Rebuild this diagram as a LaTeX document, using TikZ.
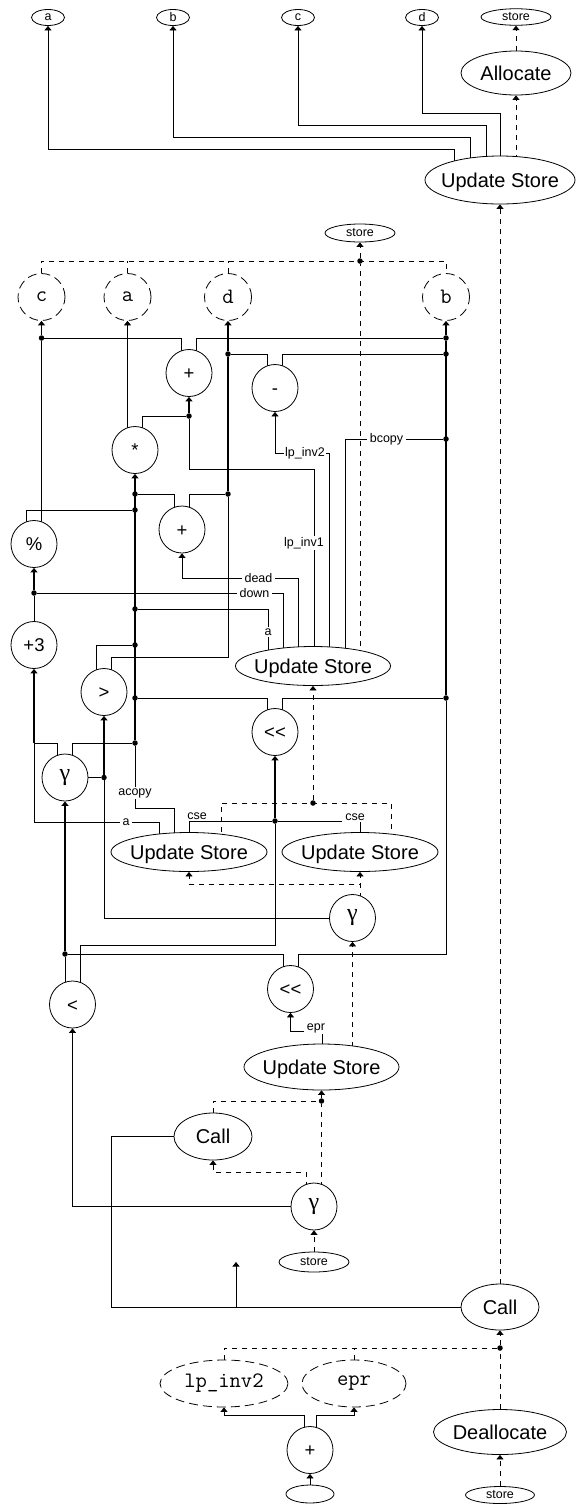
\documentclass[tikz,border=0pt]{standalone}
\usepackage{fontspec}
\setmainfont{Liberation Sans}
\newfontfamily\serifA{Liberation Serif}
\usetikzlibrary{shapes.geometric,arrows.meta,calc}
\pgfdeclarelayer{bg}
\pgfsetlayers{bg,main}
\newcommand\mk[1]{\makebox[0pt]{#1}}
\newcommand\bigF{\fontsize{20}{24}\selectfont}
\newcommand\opF{\fontsize{18.5}{22}\selectfont}
\newcommand\gamF{\serifA\fontsize{24}{28}\selectfont}
\newcommand\monoF{\ttfamily\fontsize{22}{26}\selectfont}
\newcommand\smF{\fontsize{12.5}{15}\selectfont}
\tikzset{
 base/.style={ellipse, draw, line width=0.8pt, fill=white, inner sep=0pt},
 bigE/.style={base, font=\bigF, text height=14.5pt, text depth=0pt},
 opE/.style={base, minimum width=46pt, minimum height=47pt, font=\opF, text height=13pt, text depth=0pt},
 gamE/.style={base, minimum width=46pt, minimum height=47pt, font=\gamF},
 dashE/.style={base, dash pattern=on 9pt off 5pt, font=\monoF},
 smallE/.style={base, font=\smF},
 lbl/.style={fill=white, inner xsep=3pt, inner ysep=1.5pt, font=\smF},
 jdot/.style={circle, fill=black, inner sep=0pt, minimum size=5.5pt},
 ln/.style={line width=0.75pt},
 tk/.style={line width=1.5pt},
 ds/.style={line width=0.75pt, dash pattern=on 5pt off 5pt},
 ar/.style={-{Triangle[width=7pt,length=4.5pt]}},
}
\begin{document}
\begin{tikzpicture}[x=1pt,y=-1pt]
\useasboundingbox (0,0) rectangle (576,1505);
% ---------- nodes ----------
\node[smallE, minimum width=33pt, minimum height=16pt] (ta) at (48,17.5) {a};
\node[smallE, minimum width=33pt, minimum height=16pt] (tb) at (173,17.5) {b};
\node[smallE, minimum width=33pt, minimum height=16pt] (tc) at (298,17.5) {c};
\node[smallE, minimum width=33pt, minimum height=16pt] (td) at (422,17.5) {d};
\node[smallE, minimum width=70pt, minimum height=16.5pt] (tstore) at (516,17) {store};
\node[bigE, minimum width=110pt, minimum height=44pt] (alloc) at (516,73) {\mk{Allocate}};
\node[bigE, minimum width=150pt, minimum height=48pt] (us1) at (500,180) {\mk{Update Store}};

\node[smallE, minimum width=70pt, minimum height=18pt] (store2) at (360,233) {store};
\node[dashE, minimum width=47pt, minimum height=47pt] (dc) at (41.5,297) {c};
\node[dashE, minimum width=47pt, minimum height=47pt] (da) at (127.5,297) {a};
\node[dashE, minimum width=47pt, minimum height=47pt] (dd) at (228,297) {d};
\node[dashE, minimum width=47pt, minimum height=47pt] (db) at (446,297) {b};

\node[opE] (plus1) at (189,373) {+};
\node[opE] (minus) at (275,388) {-};
\node[opE] (star) at (135,450) {*};
\node[opE] (pct) at (34,544) {\%};
\node[opE] (plus2) at (182,529.5) {+};
\node[opE] (p3) at (34,645) {\mk{+3}};
\node[opE] (gt) at (104,692) {>};
\node[bigE, minimum width=155pt, minimum height=39pt] (usm) at (313,666) {\mk{Update Store}};
\node[opE] (sh1) at (275,732) {<\kern0pt<};
\node[gamE] (g1) at (65,777.5) {γ};
\node[bigE, minimum width=156pt, minimum height=39pt] (usl) at (189,852) {\mk{Update Store}};
\node[bigE, minimum width=156pt, minimum height=39pt] (usr) at (360,852) {\mk{Update Store}};
\node[gamE] (g2) at (352.5,918) {γ};
\node[opE] (lt) at (72.5,1004.5) {<};
\node[opE] (sh2) at (290.5,989) {<\kern0pt<};
\node[bigE, minimum width=155pt, minimum height=46pt] (usw) at (321.5,1067) {\mk{Update Store}};
\node[bigE, minimum width=78pt, minimum height=47pt] (call1) at (213,1136.5) {\mk{Call}};
\node[gamE] (g3) at (314,1206.5) {γ};
\node[smallE, minimum width=70pt, minimum height=20pt] (store3) at (314,1262) {store};
\node[bigE, minimum width=78pt, minimum height=46pt] (call2) at (500,1307) {\mk{Call}};
\node[dashE, minimum width=128pt, minimum height=47pt] (li2) at (224,1383.5) {\mk{lp\_inv2}};
\node[dashE, minimum width=104pt, minimum height=47pt] (epr) at (354,1383.5) {\mk{epr}};
\node[opE] (plus3) at (310,1450) {+};
\node[smallE, minimum width=48pt, minimum height=18pt] (empty) at (310,1494) {};
\node[bigE, minimum width=133pt, minimum height=45pt] (dealloc) at (500,1432) {\mk{Deallocate}};
\node[smallE, minimum width=69pt, minimum height=17pt] (store4) at (500,1495) {store};

% ---------- labels ----------
\node[lbl] (Llpi1) at (304,543) {lp\_inv1};
\node[lbl, inner xsep=1.5pt] (Llpi2) at (305,453) {lp\_inv2};
\node[lbl] (Lbc) at (386.5,439) {bcopy};
\node[lbl] (Ldead) at (258.5,578) {dead};
\node[lbl] (Ldown) at (254.5,593) {down};
\node[lbl] (La1) at (268,632) {a};
\node[lbl] (Lacopy) at (135,793) {acopy};
\node[lbl] (La2) at (126,822) {a};
\node[lbl] (Lcse1) at (197,816) {cse};
\node[lbl] (Lcse2) at (355,817) {cse};
\node[lbl] (Lepr) at (316,1028) {epr};

% ---------- junction dots ----------
\node[jdot] (s2) at (360,261) {};
\node[jdot] (d1) at (41.5,338) {};
\node[jdot] (d2) at (446,338) {};
\node[jdot] (d3) at (446,354) {};
\node[jdot] (d4) at (446,439) {};
\node[jdot] (d5) at (446,698) {};
\node[jdot] (d6) at (228,354) {};
\node[jdot] (d7) at (228,494) {};
\node[jdot] (d8) at (189,416) {};
\node[jdot] (d9) at (135,494) {};
\node[jdot] (d10) at (135,510) {};
\node[jdot] (d11) at (135,609) {};
\node[jdot] (d12) at (135,645) {};
\node[jdot] (d13) at (135,698) {};
\node[jdot] (d14) at (135,743) {};
\node[jdot] (d15) at (34,593) {};
\node[jdot] (d16) at (313,803) {};
\node[jdot] (d17) at (104,777.5) {};
\node[jdot] (d18) at (275,821) {};
\node[jdot] (d19) at (65,954) {};
\node[jdot] (d20) at (321.5,1101) {};
\node[jdot] (d21) at (500,1348) {};
\coordinate (c1) at (34,743);
\coordinate (cfree) at (236,1262);

% ---------- connectors ----------
\begin{pgfonlayer}{bg}
\draw[ln,ar] ($(us1)+(-46,0)$) -- (454,149) -- (48,149) -- (ta.south);
\draw[ln,ar] ($(us1)+(-30,0)$) -- (470,137) -- (173,137) -- (tb.south);
\draw[ln,ar] ($(us1)+(-14,0)$) -- (486,125) -- (298,125) -- (tc.south);
\draw[ln,ar] (us1) -- (500,113) -- (422,113) -- (td.south);
\draw[ds,ar] ($(us1)+(16,0)$) -- (alloc.south);
\draw[ds,ar] (alloc) -- (tstore.south);
\draw[ds,ar] (call2) -- (us1.south);

\draw[ds] (dc.north) -- (41.5,261) -- (446,261) -- (db.north);
\draw[ds] (da.north) -- (127.5,261);
\draw[ds] (dd.north) -- (228,261);
\draw[ds,ar] (s2) -- (store2.south);
\draw[ds] ($(usm)+(47,0)$) -- (s2);

\draw[ln] ($(pct)+(7.5,0)$) -- (d1);
\draw[tk,ar] (d1) -- (dc.south);
\draw[ln] ($(plus1)+(-7.5,0)$) -- (181.5,338) -- (d1);
\draw[ln] ($(plus1)+(7.5,0)$) -- (196.5,338) -- (d2);
\draw[tk,ar] (d2) -- (db.south);
\draw[tk] (d5) -- (d2);
\draw[ln] ($(sh2)+(7.5,0)$) -- (298,954) -- (446,954) -- (d5);
\draw[tk,ar] (d6) -- (dd.south);
\draw[tk] (d7) -- (d6);
\draw[ln] ($(gt)+(7.5,0)$) -- (111.5,657) -- (228,657) -- (d7);
\draw[ln] ($(minus)+(-7.5,0)$) -- (267.5,354) -- (d6);
\draw[ln] ($(minus)+(7.5,0)$) -- (282.5,354) -- (d3);
\draw[ln,ar] ($(star)+(-7.5,0)$) -- (da.south);
\draw[ln] ($(star)+(7.5,0)$) -- (142.5,416) -- (d8);
\draw[tk,ar] (d8) -- (plus1.south);
\draw[ln] ($(usm)+(1,0)$) -- (314,469) -- (189,469) -- (d8);
\draw[ln,ar] ($(usm)+(16,0)$) -- (329,453) -- (275,453) -- (minus.south);
\draw[ln] ($(usm)+(32,0)$) -- (345,439) -- (d4);
\draw[tk,ar] (d14) -- (star.south);
\draw[ln] ($(plus2)+(-7.5,0)$) -- (174.5,494) -- (d9);
\draw[ln] ($(plus2)+(7.5,0)$) -- (189.5,494) -- (d7);
\draw[ln] ($(pct)+(-7.5,0)$) -- (26.5,510) -- (d10);
\draw[tk,ar] (d15) -- (pct.south);
\draw[ln] (p3) -- (d15);
\draw[ln,ar] ($(usm)+(-15,0)$) -- (298,578) -- (182,578) -- (plus2.south);
\draw[ln] ($(usm)+(-30,0)$) -- (283,593) -- (d15);
\draw[ln] ($(usm)+(-45,0)$) -- (268,609) -- (d11);
\draw[ln] ($(gt)+(-7.5,0)$) -- (96.5,645) -- (d12);
\draw[ln] ($(sh1)+(-7.5,0)$) -- (267.5,698) -- (d13);
\draw[ln] ($(sh1)+(7.5,0)$) -- (282.5,698) -- (d5);
\draw[ds,ar] (d16) -- (usm.south);
\draw[tk,ar] (c1) -- (p3.south);
\draw[ln] ($(g1)+(-7.5,0)$) -- (57.5,743) -- (c1);
\draw[ln] ($(usl)+(-30,0)$) -- (159,822) -- (34,822) -- (c1);
\draw[ln] ($(g1)+(7.5,0)$) -- (72.5,743) -- (d14);
\draw[ln] ($(usl)+(-15,0)$) -- (174,808) -- (135,808) -- (d14);
\draw[tk,ar] (d17) -- (gt.south);
\draw[ln] (g1) -- (d17);
\draw[ln] (g2) -- (104,918) -- (d17);
\draw[tk,ar] (d18) -- (sh1.south);
\draw[ln] (usl) -- (189,821) -- (d18);
\draw[ln] (usr) -- (360,821) -- (d18);
\draw[ln] ($(lt)+(7.5,0)$) -- (80,945) -- (275,945) -- (d18);
\draw[ds] ($(usl)+(32,0)$) -- (221,803) -- (391,803) -- ($(usr)+(31,0)$);
\draw[ds,ar] ($(g2)+(7.5,0)$) -- (usr.south);
\draw[ds,ar] ($(g2)+(7.5,0)$) -- (360,884) -- (189,884) -- (usl.south);
\draw[ln] ($(sh2)+(-7.5,0)$) -- (283,954) -- (d19);
\draw[tk,ar] (d19) -- (g1.south);
\draw[ln] ($(lt)+(-7.5,0)$) -- (d19);
\draw[ln,ar] ($(usw)+(0.5,0)$) -- (322,1031) -- (290.5,1031) -- (sh2.south);
\draw[ds,ar] ($(usw)+(31,0)$) -- (g2.south);
\draw[ds,ar] (d20) -- (usw.south);
\draw[ds] (call1) -- (213,1101) -- (d20);
\draw[ds] ($(g3)+(7.5,0)$) -- (d20);
\draw[ds,ar] ($(g3)+(-7.5,0)$) -- (306.5,1172) -- (213,1172) -- (call1.south);
\draw[ln,ar] (g3) -- (72.5,1206.5) -- (lt.south);
\draw[ds,ar] (store3) -- (g3.south);
\draw[ln] (call2) -- (111,1307) -- (111,1136.5) -- (call1);
\draw[ln,ar] (call2) -- (236,1307) -- (cfree);
\draw[ds,ar] (d21) -- (call2.south);
\draw[ds] (li2.north) -- (224,1348) -- (d21);
\draw[ds] (epr.north) -- (354,1348);
\draw[ds] (dealloc) -- (d21);
\draw[ln,ar] ($(plus3)+(-6,0)$) -- (304,1415) -- (224,1415) -- (li2.south);
\draw[ln,ar] ($(plus3)+(6,0)$) -- (316,1415) -- (354,1415) -- (epr.south);
\draw[ln,ar] (empty) -- (plus3.south);
\draw[ds,ar] (store4) -- (dealloc.south);
\end{pgfonlayer}
\end{tikzpicture}
\end{document}
